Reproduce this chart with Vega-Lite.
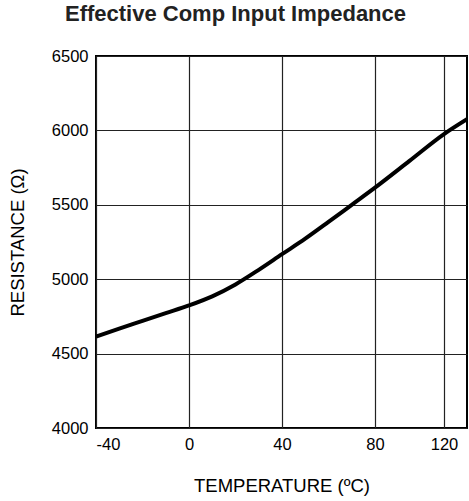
{
  "$schema": "https://vega.github.io/schema/vega-lite/v6.json",
  "autosize": "none",
  "width": 371,
  "height": 372,
  "padding": {"left": 96, "top": 56, "right": 2, "bottom": 73},
  "background": "white",
  "title": {
    "text": "Effective Comp Input Impedance",
    "font": "Liberation Sans",
    "fontSize": 22,
    "fontWeight": "bold",
    "color": "#222",
    "anchor": "middle",
    "dx": -46,
    "offset": 22
  },
  "config": {
    "view": {"stroke": "#000", "strokeWidth": 2},
    "axis": {
      "labelFont": "Liberation Sans",
      "titleFont": "Liberation Sans",
      "labelColor": "#000",
      "titleColor": "#000",
      "labelFontSize": 16.5,
      "titleFontSize": 18.5,
      "titleFontWeight": "normal",
      "grid": true,
      "gridColor": "#222",
      "gridWidth": 1.2,
      "gridOpacity": 1,
      "domain": false,
      "ticks": false,
      "labelExpr": "datum.value + ''"
    }
  },
  "data": {
    "values": [
      {"temp": -40, "res": 4615},
      {"temp": -30, "res": 4668},
      {"temp": -20, "res": 4720},
      {"temp": -10, "res": 4772},
      {"temp": 0, "res": 4824},
      {"temp": 10, "res": 4885},
      {"temp": 20, "res": 4965},
      {"temp": 30, "res": 5063},
      {"temp": 40, "res": 5168},
      {"temp": 50, "res": 5272},
      {"temp": 60, "res": 5385},
      {"temp": 70, "res": 5500},
      {"temp": 80, "res": 5615},
      {"temp": 100, "res": 5795},
      {"temp": 120, "res": 5975},
      {"temp": 130, "res": 6075}
    ]
  },
  "mark": {"type": "line", "color": "#000", "strokeWidth": 4, "interpolate": "monotone", "clip": true},
  "encoding": {
    "x": {
      "field": "temp",
      "type": "quantitative",
      "scale": {"type": "linear", "domain": [-40, 80, 120, 130], "range": [0, 279, 348, 371], "nice": false, "zero": false},
      "axis": {"values": [-40, 0, 40, 80, 120], "title": "TEMPERATURE (ºC)", "labelPadding": 8, "titlePadding": 24}
    },
    "y": {
      "field": "res",
      "type": "quantitative",
      "scale": {"domain": [4000, 6500], "nice": false, "zero": false},
      "axis": {"values": [4000, 4500, 5000, 5500, 6000, 6500], "title": "RESISTANCE (Ω)", "labelPadding": 8, "titlePadding": 24}
    }
  }
}
